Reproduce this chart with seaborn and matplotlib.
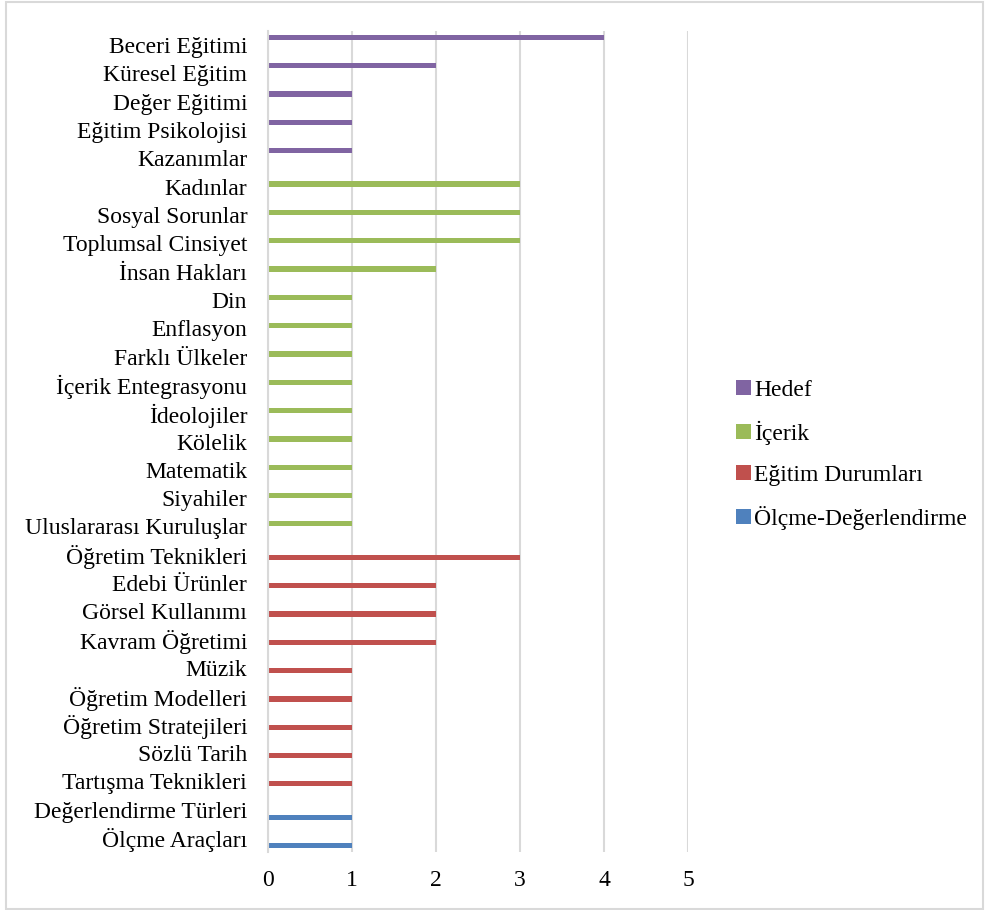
import matplotlib
matplotlib.use("Agg")
import matplotlib.pyplot as plt
import seaborn as sns
import pandas as pd
from matplotlib.patches import Patch, Rectangle

hedef_cats = ["Beceri Eğitimi", "Küresel Eğitim", "Değer Eğitimi", "Eğitim Psikolojisi", "Kazanımlar"]
hedef_vals = [4, 2, 1, 1, 1]
icerik_cats = ["Kadınlar", "Sosyal Sorunlar", "Toplumsal Cinsiyet", "İnsan Hakları", "Din", "Enflasyon",
               "Farklı Ülkeler", "İçerik Entegrasyonu", "İdeolojiler", "Kölelik", "Matematik", "Siyahiler",
               "Uluslararası Kuruluşlar"]
icerik_vals = [3, 3, 3, 2, 1, 1, 1, 1, 1, 1, 1, 1, 1]
egitim_cats = ["Öğretim Teknikleri", "Edebi Ürünler", "Görsel Kullanımı", "Kavram Öğretimi", "Müzik",
               "Öğretim Modelleri", "Öğretim Stratejileri", "Sözlü Tarih", "Tartışma Teknikleri"]
egitim_vals = [3, 2, 2, 2, 1, 1, 1, 1, 1]
olcme_cats = ["Değerlendirme Türleri", "Ölçme Araçları"]
olcme_vals = [1, 1]

groups = ["Hedef", "İçerik", "Eğitim Durumları", "Ölçme-Değerlendirme"]
colors = ["#8064A2", "#9BBB59", "#C0504D", "#4F81BD"]

rows = []
for g, cats, vals in zip(groups, [hedef_cats, icerik_cats, egitim_cats, olcme_cats],
                         [hedef_vals, icerik_vals, egitim_vals, olcme_vals]):
    for c, v in zip(cats, vals):
        rows.append({"Kategori": c, "Değer": v, "Grup": g})
df = pd.DataFrame(rows)
order = hedef_cats + icerik_cats + egitim_cats + olcme_cats

sns.set_theme(style="white")
plt.rcParams["font.family"] = ["Liberation Serif", "DejaVu Serif"]
plt.rcParams["text.color"] = "black"

fig = plt.figure(figsize=(9.85, 9.10), dpi=100)
ax = fig.add_axes([268/985, 58/910, 420/985, 821/910])

sns.barplot(data=df, y="Kategori", x="Değer", hue="Grup", order=order, hue_order=groups,
            palette=colors, dodge=True, width=0.74, orient="h", ax=ax, legend=False,
            saturation=1, edgecolor="none")

ax.set_xlim(0, 5)
ax.set_ylim(len(order) - 0.5, -0.5)
ax.set_xticks([0, 1, 2, 3, 4, 5])
ax.set_xlabel("")
ax.set_ylabel("")
ax.xaxis.grid(True, color="#D9D9D9", linewidth=1.5)
ax.set_axisbelow(True)
for s in ["top", "right", "bottom"]:
    ax.spines[s].set_visible(False)
ax.spines["left"].set_color("#D9D9D9")
ax.spines["left"].set_linewidth(1.5)
ax.tick_params(axis="y", length=0, pad=15, labelsize=17, colors="black")
ax.tick_params(axis="x", length=0, pad=13, labelsize=17, colors="black")
for lbl in ax.get_yticklabels():
    lbl.set_va("center_baseline")

handles = [Patch(facecolor=c, edgecolor="none") for c in colors]
fig.legend(handles, groups, loc="center left", bbox_to_anchor=(727/985, (910-455)/910),
           frameon=False, fontsize=17, handlelength=0.6, handleheight=0.6,
           handletextpad=0.15, labelspacing=0.85, borderaxespad=0, labelcolor="black")

fig.patches.append(Rectangle((6/985, 1/910), 977/985, 907/910, transform=fig.transFigure,
                             fill=False, edgecolor="#D9D9D9", linewidth=1.5))

fig.savefig("out.png", dpi=100)
